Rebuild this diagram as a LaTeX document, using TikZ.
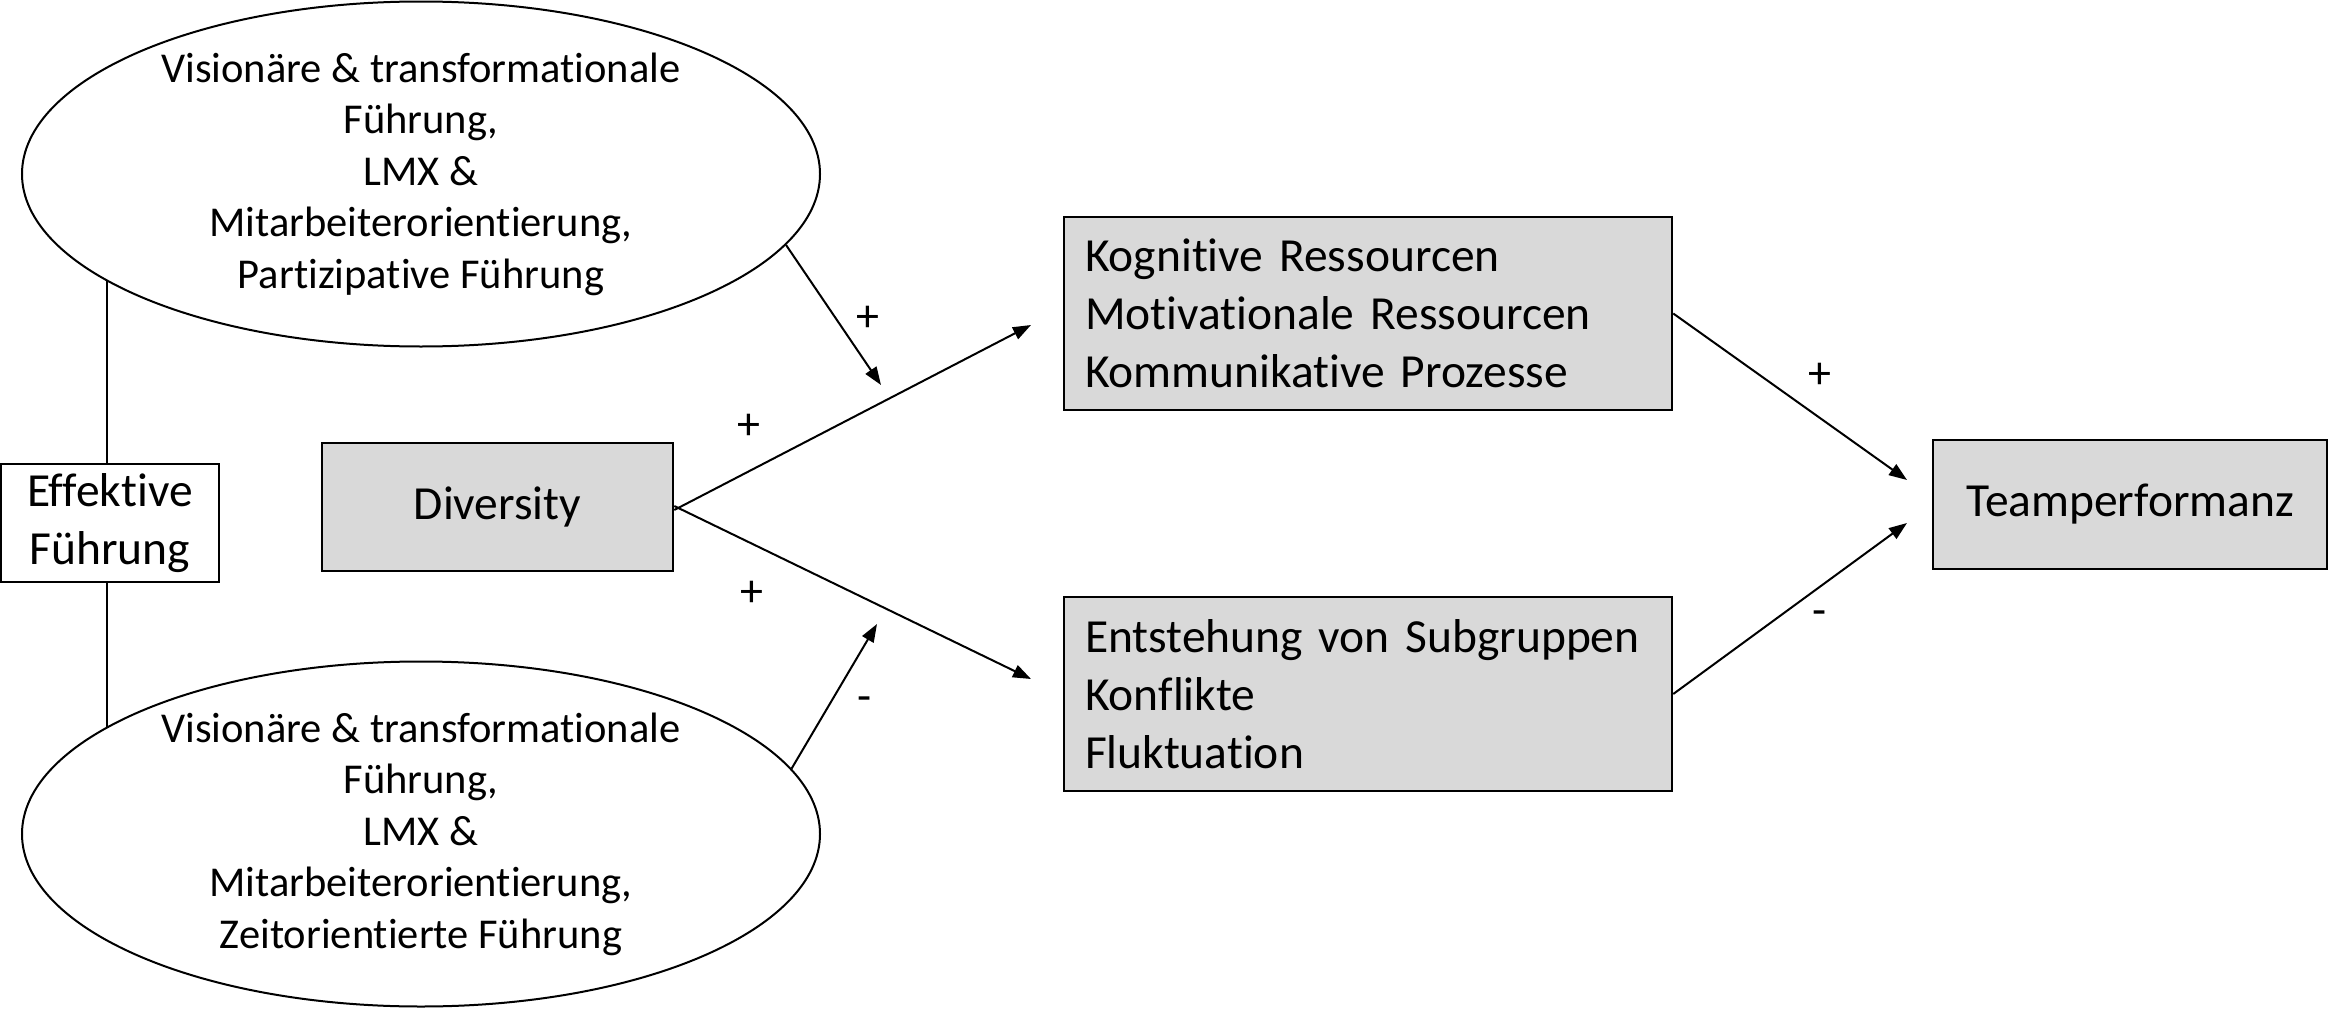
\documentclass[tikz,border=0pt]{standalone}
\usepackage{fontspec}
\setmainfont{Carlito}[Ligatures={NoCommon}]
\usetikzlibrary{shapes.geometric,arrows.meta}
\definecolor{boxgray}{HTML}{D9D9D9}
\tikzset{
  graybox/.style={draw=black, line width=2.5pt, fill=boxgray, inner sep=0pt, font=\fontsize{47.5}{58}\selectfont},
  whitebox/.style={draw=black, line width=2.5pt, fill=white, inner sep=0pt, align=center, font=\fontsize{47.5}{58}\selectfont},
  oval/.style={draw=black, ellipse, line width=2pt, inner sep=-20pt, minimum width=798pt, minimum height=345pt, align=center, font=\fontsize{42.5}{51.5}\selectfont},
  conn/.style={line width=2pt},
  arr/.style={line width=2pt, -{Triangle[length=18pt,width=13pt]}},
  sign/.style={font=\fontsize{46}{50}\selectfont, inner sep=0pt}
}
\begin{document}
\begin{tikzpicture}[x=1pt,y=-1pt]
\useasboundingbox (0,0) rectangle (2330,1009);
\node[oval] (ue) at (421,174) {Visionäre \& transformationale\\Führung,\\LMX \&\\Mitarbeiterorientierung,\\Partizipative Führung};
\node[oval] (le) at (421,834) {Visionäre \& transformationale\\Führung,\\LMX \&\\Mitarbeiterorientierung,\\Zeitorientierte Führung};
\node[whitebox, minimum width=218pt, minimum height=118pt] (eff) at (110,523) {Effektive\\Führung};
\node[graybox, minimum width=351pt, minimum height=128pt] (div) at (497.5,507) {Diversity};
\node[graybox, minimum width=608pt, minimum height=193pt, text width=566pt, align=left] (res) at (1368,313.5) {Kognitive Ressourcen\\Motivationale Ressourcen\\Kommunikative Prozesse};
\node[graybox, minimum width=608pt, minimum height=194pt, text width=566pt, align=left] (sub) at (1368,694) {Entstehung von Subgruppen\\Konflikte\\Fluktuation};
\node[graybox, minimum width=394pt, minimum height=129pt] (team) at (2130,504.5) {Teamperformanz};

\coordinate (v1) at (107,281);
\coordinate (v2) at (107,727);
\coordinate (a1) at (1031,325);
\coordinate (a2) at (1031,679);
\coordinate (m1) at (881,385);
\coordinate (m2) at (877,624);
\coordinate (t1) at (1907,480);
\coordinate (t2) at (1907,523);

\draw[conn] (v1) -- (v1 |- eff.north);
\draw[conn] (v2) -- (v2 |- eff.south);
\draw[arr] ([yshift=-3pt]div.east) -- (a1);
\draw[arr] ([yshift=1pt]div.east) -- (a2);
\draw[arr] (ue.-11.4) -- (m1);
\draw[arr] (le.10.6) -- (m2);
\draw[arr] (res.east) -- (t1);
\draw[arr] (sub.east) -- (t2);

\node[sign] (p1) at (868,319) {+};
\node[sign] (p2) at (749,427) {+};
\node[sign] (p3) at (752,594) {+};
\node[sign] (n1) at (865,704) {-};
\node[sign] (p4) at (1820,376) {+};
\node[sign] (n2) at (1820,618) {-};
\end{tikzpicture}
\end{document}
